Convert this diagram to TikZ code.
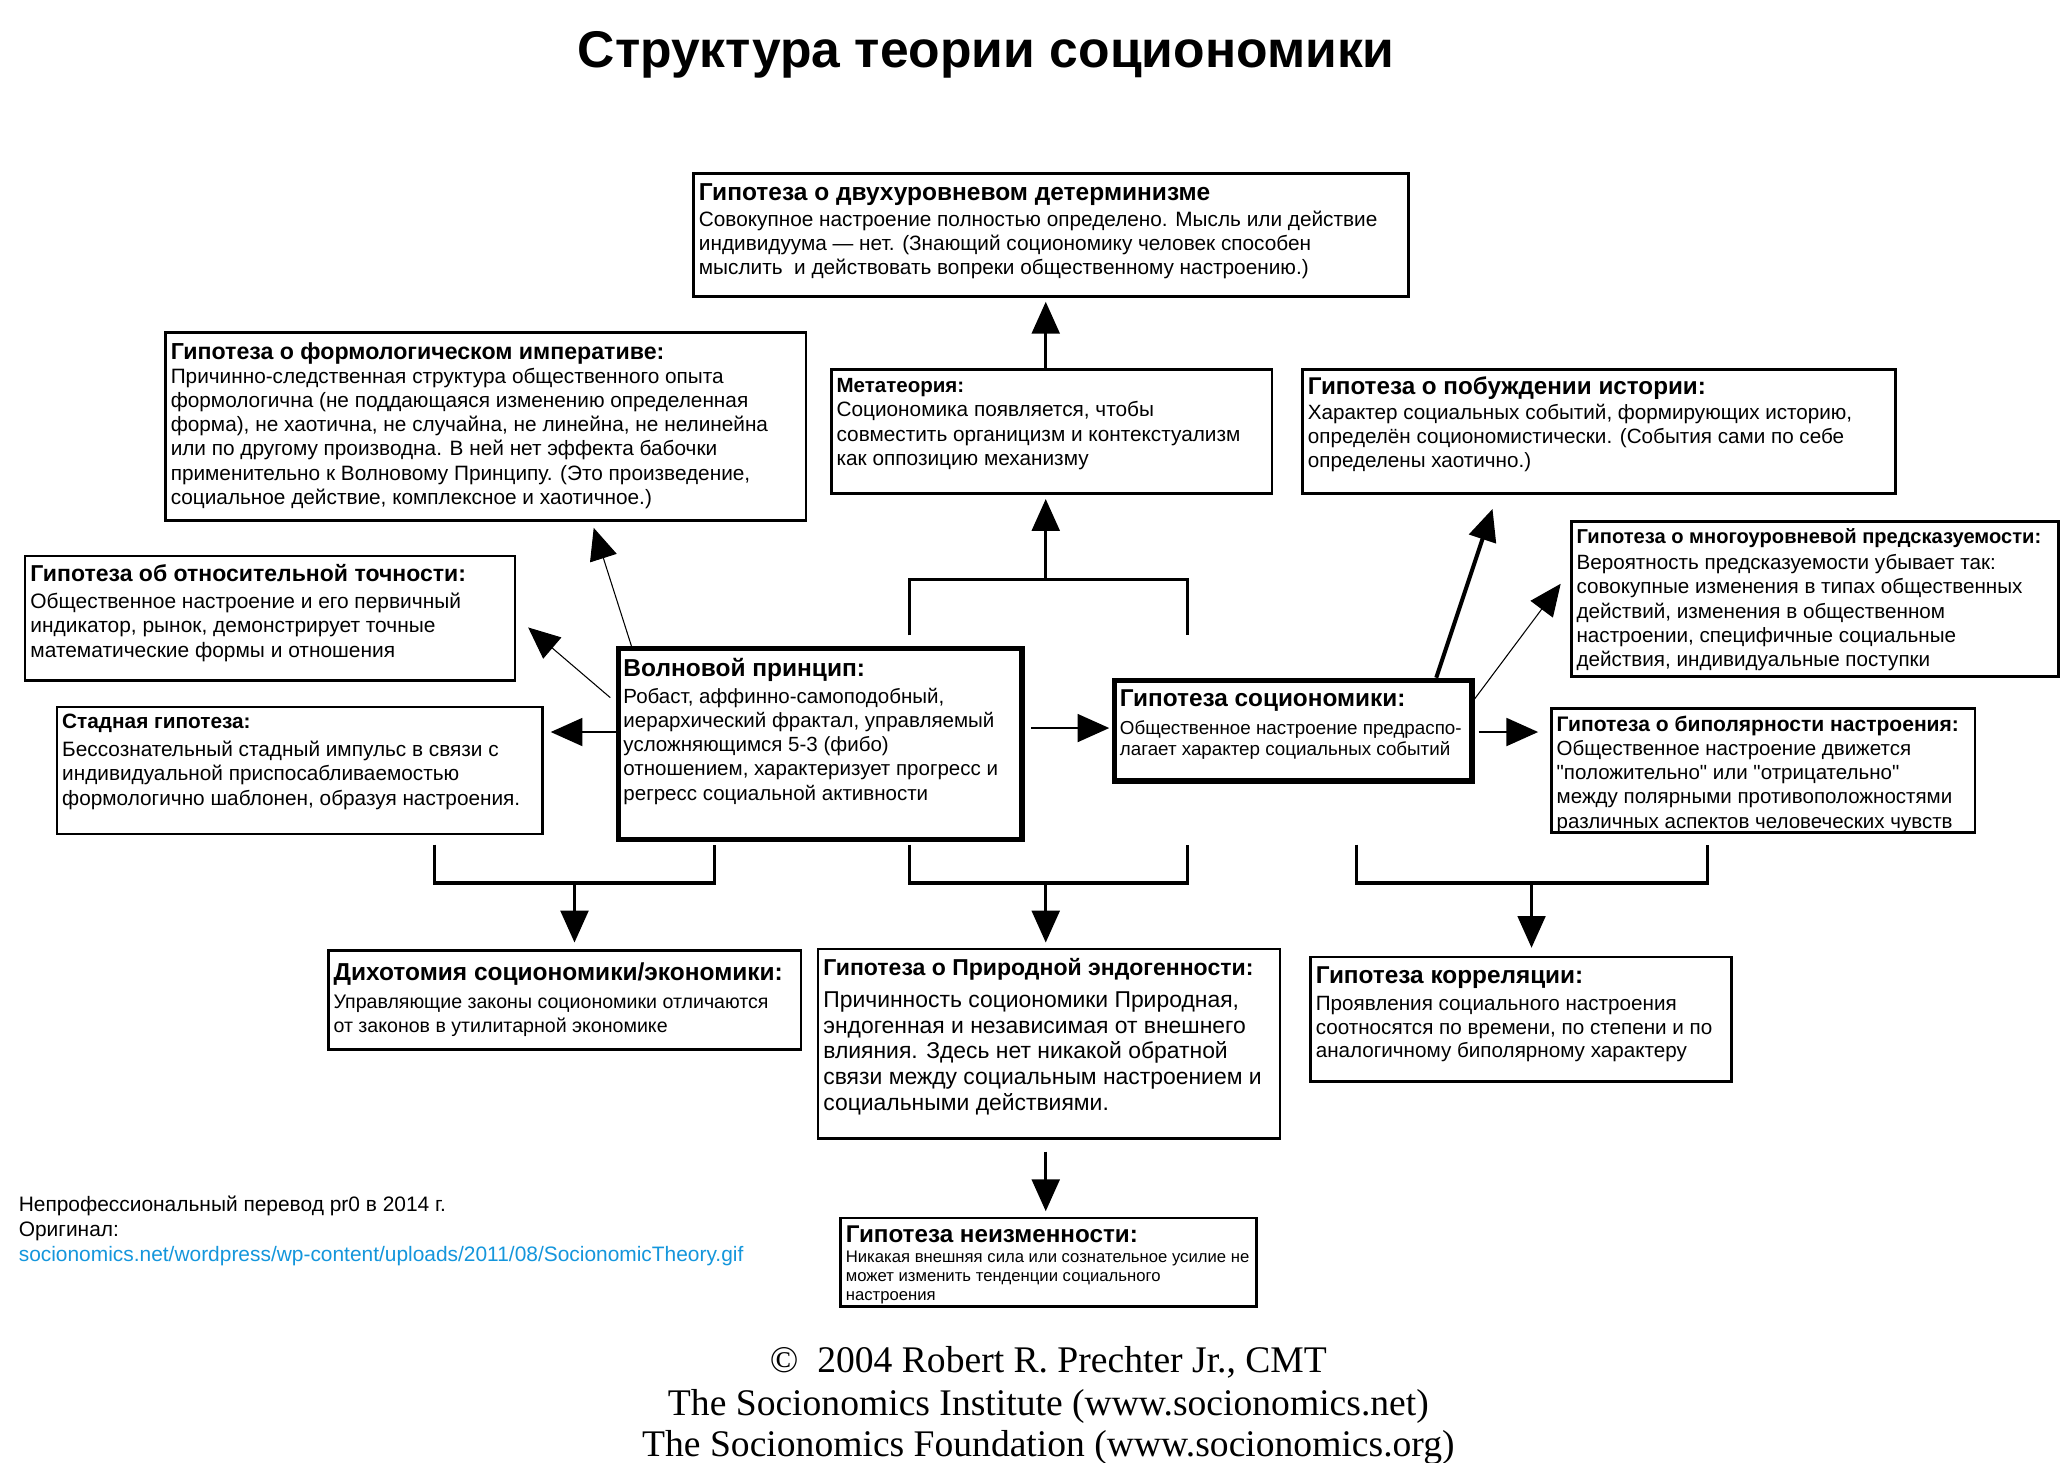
\documentclass[tikz,border=0pt]{standalone}
\usepackage{fontspec}
\setmainfont{Liberation Sans}
\newfontfamily\serifft{Liberation Serif}
\usetikzlibrary{arrows.meta}
\definecolor{linkblue}{RGB}{20,150,220}
\tikzset{
  bxs/.style={draw=black, line width=2pt, fill=white, inner xsep=4pt, inner ysep=0pt, anchor=north west},
  bxthick/.style={bxs, line width=4pt},
  arr/.style={line width=2pt, -{Triangle[length=24pt,width=21pt]}},
  thickarr/.style={line width=3pt, -{Triangle[length=24pt,width=21pt]}},
  thinarr/.style={line width=0.8pt, -{Triangle[length=24pt,width=21pt]}},
  brk/.style={line width=2.5pt},
  note/.style={anchor=base west, inner sep=0pt, font=\fontsize{15.8}{18}\selectfont},
  copy/.style={anchor=base, inner sep=0pt, font=\serifft\fontsize{28.4}{31}\selectfont},
}
\newcommand\bxt[4]{\parbox[t][#2pt][t]{#1pt}{\raggedright\vspace*{#3pt}#4}}
\newcommand\ttl[3]{{\bfseries\fontsize{#1}{#1}\selectfont #2\par}\vspace{#3pt}}
\newcommand\bdy[2]{\fontsize{#1}{#2}\selectfont}
\newcommand\dq{\XeTeXglyph\XeTeXcharglyph"22\relax}
\begin{document}
\begin{tikzpicture}[x=1pt,y=-1pt]
\useasboundingbox (0,0) rectangle (1560,1105);
\fill[white] (0,0) rectangle (1560,1105);

% title
\node[anchor=base, inner sep=0pt, font=\bfseries\fontsize{39}{42}\selectfont] (title) at (745,51) {Структура теории социономики};

% boxes
\node[bxs] (det) at (523,130) {\bxt{532}{93}{7.6}{\ttl{18.5}{Гипотеза о двухуровневом детерминизме}{2}\bdy{15.7}{18}Совокупное настроение полностью определено. Мысль или действие\\индивидуума — нет. (Знающий социономику человек способен\\мыслить\ \ и действовать вопреки общественному настроению.)}};

\node[bxs] (form) at (124,250) {\bxt{476}{142}{8}{\ttl{17.5}{Гипотеза о формологическом императиве:}{0}\bdy{15.7}{18.2}Причинно-следственная структура общественного опыта\\формологична (не поддающаяся изменению определенная\\форма), не хаотична, не случайна, не линейна, не нелинейна\\или по другому производна. В ней нет эффекта бабочки\\применительно к Волновому Принципу. (Это произведение,\\социальное действие, комплексное и хаотичное.)}};

\node[bxs] (meta) at (627,278) {\bxt{325}{94}{6.5}{\ttl{15.5}{Метатеория:}{0}\bdy{15.7}{18.5}Социономика появляется, чтобы\\совместить органицизм и контекстуализм\\как оппозицию механизму}};

\node[bxs] (hist) at (983,278) {\bxt{440}{94}{5.8}{\ttl{18.3}{Гипотеза о побуждении истории:}{1}\bdy{15.6}{18}Характер социальных событий, формирующих историю,\\определён социономистически. (События сами по себе\\определены хаотично.)}};

\node[bxs] (multi) at (1186,393) {\bxt{360}{117}{5}{\ttl{15.2}{Гипотеза о многоуровневой предсказуемости:}{1.7}\bdy{15.6}{18.3}Вероятность предсказуемости убывает так:\\совокупные изменения в типах общественных\\действий, изменения в общественном\\настроении, специфичные социальные\\действия, индивидуальные поступки}};

\node[bxs] (acc) at (18,419) {\bxt{362}{94}{6.5}{\ttl{17.4}{Гипотеза об относительной точности:}{1.5}\bdy{15.8}{18.5}Общественное настроение и его первичный\\индикатор, рынок, демонстрирует точные\\математические формы и отношения}};

\node[bxs] (herd) at (42,533) {\bxt{359}{96}{5.5}{\ttl{15.7}{Стадная гипотеза:}{2.5}\bdy{15.7}{18.5}Бессознательный стадный импульс в связи с\\индивидуальной приспосабливаемостью\\формологично шаблонен, образуя настроения.}};

\node[bxthick] (wave) at (465,488) {\bxt{297}{144}{7.5}{\ttl{18.5}{Волновой принцип:}{1.7}\bdy{15.5}{18.3}Робаст, аффинно-самоподобный,\\иерархический фрактал, управляемый\\усложняющимся 5-3 (фибо)\\отношением, характеризует прогресс и\\регресс социальной активности}};

\node[bxthick] (soc) at (840,512) {\bxt{262}{76}{7.2}{\ttl{18.4}{Гипотеза социономики:}{5}\bdy{14.2}{16}Общественное настроение предраспо-\\лагает характер социальных событий}};

\node[bxs] (bip) at (1171,534) {\bxt{312}{94}{5.7}{\ttl{15.9}{Гипотеза о биполярности настроения:}{0}\bdy{15.5}{18.3}Общественное настроение движется\\\dq положительно\dq{} или \dq отрицательно\dq\\между полярными противоположностями\\различных аспектов человеческих чувств}};

\node[bxs] (dich) at (247,717) {\bxt{349}{75}{9}{\ttl{18.5}{Дихотомия социономики/экономики:}{3.5}\bdy{14.8}{18}Управляющие законы социономики отличаются\\от законов в утилитарной экономике}};

\node[bxs] (nat) at (617,716) {\bxt{341}{143}{7}{\ttl{17.4}{Гипотеза о Природной эндогенности:}{4.5}\bdy{17.3}{19.5}Причинность социономики Природная,\\эндогенная и независимая от внешнего\\влияния. Здесь нет никакой обратной\\связи между социальным настроением и\\социальными действиями.}};

\node[bxs] (corr) at (989,722) {\bxt{310}{94}{7.5}{\ttl{18.4}{Гипотеза корреляции:}{2}\bdy{15.6}{18}Проявления социального настроения\\соотносятся по времени, по степени и по\\аналогичному биполярному характеру}};

\node[bxs] (inv) at (634,919) {\bxt{306}{67}{6}{\ttl{18.3}{Гипотеза неизменности:}{0.5}\bdy{12.6}{14.5}Никакая внешняя сила или сознательное усилие не\\может изменить тенденции социального\\настроения}};

% bracket coordinates
\coordinate (tA) at (687,480); \coordinate (tB) at (897,480);
\coordinate (tL) at (687,438); \coordinate (tR) at (897,438); \coordinate (tM) at (790,438);
\coordinate (lA) at (328,638); \coordinate (lB) at (540,638);
\coordinate (lL) at (328,667); \coordinate (lR) at (540,667); \coordinate (lM) at (434,667);
\coordinate (mA) at (687,638); \coordinate (mB) at (897,638);
\coordinate (mL) at (687,667); \coordinate (mR) at (897,667); \coordinate (mM) at (790,667);
\coordinate (rA) at (1025,638); \coordinate (rB) at (1290,638);
\coordinate (rL) at (1025,667); \coordinate (rR) at (1290,667); \coordinate (rM) at (1157,667);

% brackets
\draw[brk] (tA) -- (tL) -- (tR) -- (tB);
\draw[brk] (lA) -- (lL) -- (lR) -- (lB);
\draw[brk] (mA) -- (mL) -- (mR) -- (mB);
\draw[brk] (rA) -- (rL) -- (rR) -- (rB);

% arrows
\draw[arr, shorten >=3pt] (790,0 |- meta.north) -- (790,0 |- det.south);
\draw[arr, shorten >=3pt] (tM) -- (tM |- meta.south);
\draw[thinarr, shorten >=5pt] ([xshift=12pt]wave.north west) -- (447,0 |- form.south);
\draw[thinarr] ([xshift=-4pt,yshift=-39pt]wave.north west) -- ([xshift=9pt,yshift=-7pt]acc.east);
\draw[arr, shorten >=5pt] (wave.west |- 0,553) -- (herd.east |- 0,553);
\draw[arr, shorten <=5pt, shorten >=2pt] (wave.east |- 0,550) -- (soc.west |- 0,550);
\draw[thickarr, shorten >=11pt] (1085,0 |- soc.north) -- (1131,0 |- hist.south);
\draw[thinarr] (soc.east |- 0,528) -- ([xshift=-7pt,yshift=11.5pt]multi.west);
\draw[arr, shorten <=3pt, shorten >=9pt] (soc.east |- 0,553) -- (bip.west |- 0,553);
\draw[arr, shorten >=5pt] (lM) -- (lM |- dich.north);
\draw[arr, shorten >=4pt] (mM) -- (mM |- nat.north);
\draw[arr, shorten >=6pt] (rM) -- (rM |- corr.north);
\draw[arr, shorten <=9pt, shorten >=4pt] (790,0 |- nat.south) -- (790,0 |- inv.north);

% notes
\node[note] (n1) at (14,915) {Непрофессиональный перевод pr0 в 2014 г.};
\node[note] (n2) at (14,934) {Оригинал:};
\node[note, text=linkblue] (n3) at (14,953) {socionomics.net/wordpress/wp-content/uploads/2011/08/SocionomicTheory.gif};

% copyright
\node[copy] (c1) at (792,1037) {©\ \ 2004 Robert R. Prechter Jr., CMT};
\node[copy] (c2) at (792,1069) {The Socionomics Institute (www.socionomics.net)};
\node[copy] (c3) at (792,1100) {The Socionomics Foundation (www.socionomics.org)};
\end{tikzpicture}
\end{document}
